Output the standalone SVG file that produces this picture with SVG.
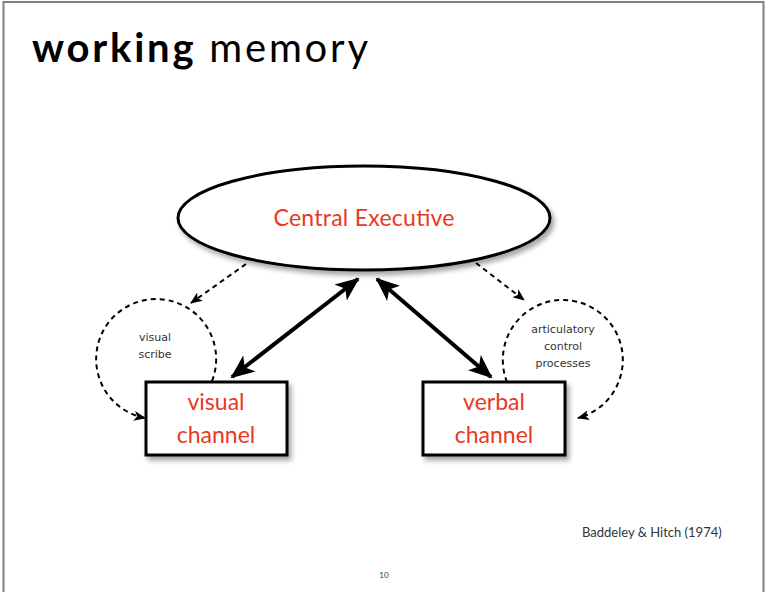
<svg xmlns="http://www.w3.org/2000/svg" width="770" height="592" viewBox="0 0 770 592">
  <style>
    .frame { fill: #ffffff; stroke: #808080; stroke-width: 2; }
    .node { fill: #ffffff; stroke: #000000; stroke-width: 3; }
    .label { font-family: "Lato", "Liberation Sans", sans-serif; fill: #e8381f; font-size: 23px; text-anchor: middle; }
    .note { font-family: "DejaVu Sans", sans-serif; fill: #333333; font-size: 11px; text-anchor: middle; }
    .thick { fill: none; stroke: #000000; stroke-width: 4; marker-start: url(#headBig); marker-end: url(#headBig); }
    .dash { fill: none; stroke: #000000; stroke-width: 2; stroke-dasharray: 5 4; marker-end: url(#headSmall); }
  </style>
  <defs>
    <filter id="shadow" x="-10%" y="-10%" width="130%" height="140%">
      <feDropShadow dx="3" dy="4" stdDeviation="2.5" flood-color="#000000" flood-opacity="0.35"/>
    </filter>
    <marker id="headBig" viewBox="0 0 12 10" refX="11" refY="5" markerWidth="6" markerHeight="5.5" markerUnits="strokeWidth" orient="auto-start-reverse">
      <path d="M0,0 L12,5 L0,10 L3,5 Z" fill="#000000"/>
    </marker>
    <marker id="headSmall" viewBox="0 0 12 10" refX="11" refY="5" markerWidth="6" markerHeight="5" markerUnits="strokeWidth" orient="auto">
      <path d="M0,0 L12,5 L0,10 L3,5 Z" fill="#000000"/>
    </marker>
  </defs>

  <!-- slide frame -->
  <rect class="frame" x="3.5" y="2" width="760" height="600"/>

  <!-- title -->
  <text x="32" y="62" font-family="Lato, 'Liberation Sans', sans-serif" font-size="40" fill="#000000" textLength="336" lengthAdjust="spacing"><tspan font-weight="bold">working</tspan> memory</text>

  <!-- connectors -->
  <g id="connectors">
    <line class="thick" x1="232" y1="377" x2="358" y2="279"/>
    <line class="thick" x1="377" y1="279" x2="491" y2="377"/>
    <line class="dash" x1="246" y1="264" x2="191" y2="303"/>
    <line class="dash" x1="476" y1="263" x2="524" y2="300"/>
    <path class="dash" d="M212,381 A60,60 0 1 0 145,418"/>
    <path class="dash" d="M507,382 A60,60 0 1 1 578,418"/>
  </g>

  <!-- central executive -->
  <g id="central-executive">
    <ellipse class="node" cx="364" cy="218" rx="186" ry="52" filter="url(#shadow)"/>
    <text class="label" x="364" y="226" textLength="181" lengthAdjust="spacing">Central Executive</text>
  </g>

  <!-- visual channel -->
  <g id="visual-channel">
    <rect class="node" x="146" y="382" width="141" height="73" filter="url(#shadow)"/>
    <text class="label" x="216" y="410">visual</text>
    <text class="label" x="216" y="443">channel</text>
  </g>

  <!-- verbal channel -->
  <g id="verbal-channel">
    <rect class="node" x="423" y="382" width="142" height="73" filter="url(#shadow)"/>
    <text class="label" x="494" y="410">verbal</text>
    <text class="label" x="494" y="443">channel</text>
  </g>

  <!-- loop labels -->
  <g id="visual-scribe">
    <text class="note" x="155" y="341">visual</text>
    <text class="note" x="155" y="358">scribe</text>
  </g>
  <g id="articulatory-control">
    <text class="note" x="563" y="333">articulatory</text>
    <text class="note" x="563" y="350">control</text>
    <text class="note" x="563" y="367">processes</text>
  </g>

  <!-- citation and page number -->
  <text x="582" y="537" font-family="Lato, 'Liberation Sans', sans-serif" font-size="13" fill="#333333">Baddeley &amp; Hitch (1974)</text>
  <text x="384" y="578" font-family="Lato, 'Liberation Sans', sans-serif" font-size="8" fill="#333333" text-anchor="middle">10</text>
</svg>
